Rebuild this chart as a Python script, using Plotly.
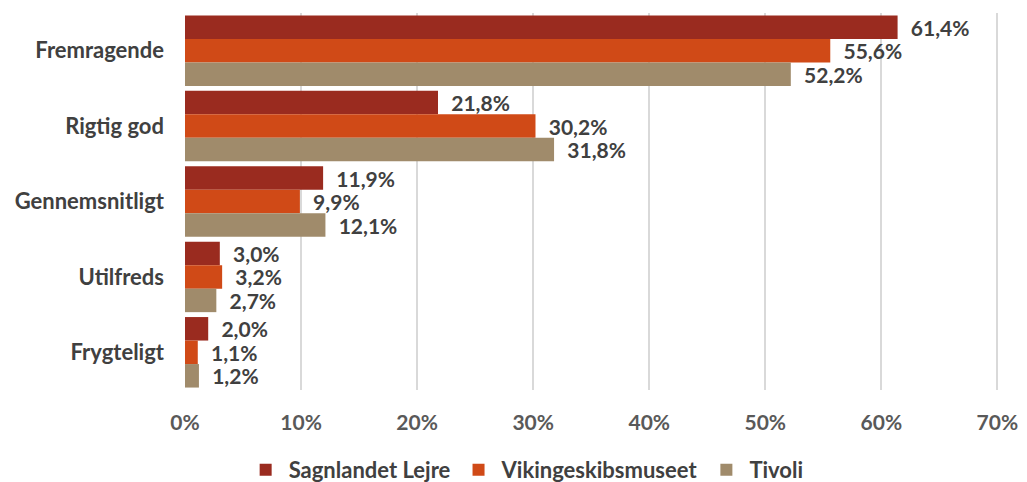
import plotly.graph_objects as go

categories = ["Fremragende", "Rigtig god", "Gennemsnitligt", "Utilfreds", "Frygteligt"]
series_names = ["Sagnlandet Lejre", "Vikingeskibsmuseet", "Tivoli"]
sagnlandet = [61.4, 21.8, 11.9, 3.0, 2.0]
vikinge = [55.6, 30.2, 9.9, 3.2, 1.1]
tivoli = [52.2, 31.8, 12.1, 2.7, 1.2]
colors = ["#9A2B1F", "#D04A17", "#A08B6B"]
x_ticks = [0, 10, 20, 30, 40, 50, 60, 70]

FONT = "Lato"
TXT = "#404040"

fig = go.Figure()
for name, vals, col in zip(series_names, [sagnlandet, vikinge, tivoli], colors):
    fig.add_trace(go.Bar(
        y=categories, x=vals, name=name, orientation="h",
        marker=dict(color=col, line=dict(width=0)),
        text=["  " + f"{v:.1f}%".replace(".", ",") for v in vals],
        textposition="outside", constraintext="none", cliponaxis=False,
        textfont=dict(family=FONT, size=21, color=TXT, weight="bold"),
    ))

# page body has an 8px margin, so the figure is sized to fit the window
fig.update_layout(
    width=1019, height=474,
    margin=dict(l=177, r=18, t=5, b=92, autoexpand=False),
    barmode="group", bargap=0.065, bargroupgap=0,
    plot_bgcolor="white", paper_bgcolor="white",
    font=dict(family=FONT, color=TXT, weight="bold"),
    xaxis=dict(range=[0, 71], tickvals=x_ticks, ticktext=[f"{t}%" for t in x_ticks],
               showgrid=True, gridcolor="#D9D9D9", gridwidth=2, zeroline=False,
               tickfont=dict(family=FONT, size=21, color="#595959", weight="bold"),
               ticks="", ticklabelstandoff=18, ticklabeloverflow="allow",
               fixedrange=True, automargin=False),
    yaxis=dict(autorange="reversed", showgrid=False, zeroline=False,
               tickfont=dict(family=FONT, size=22, color=TXT, weight="bold"),
               ticks="", ticklabelstandoff=20, showline=False, automargin=False),
    legend=dict(orientation="h", xref="container", yref="paper",
                x=0.508, y=-0.212, xanchor="center", yanchor="middle",
                font=dict(family=FONT, size=22, color=TXT, weight="bold"),
                itemwidth=36, traceorder="normal"),
    showlegend=True,
)
fig.write_html("out.html")
